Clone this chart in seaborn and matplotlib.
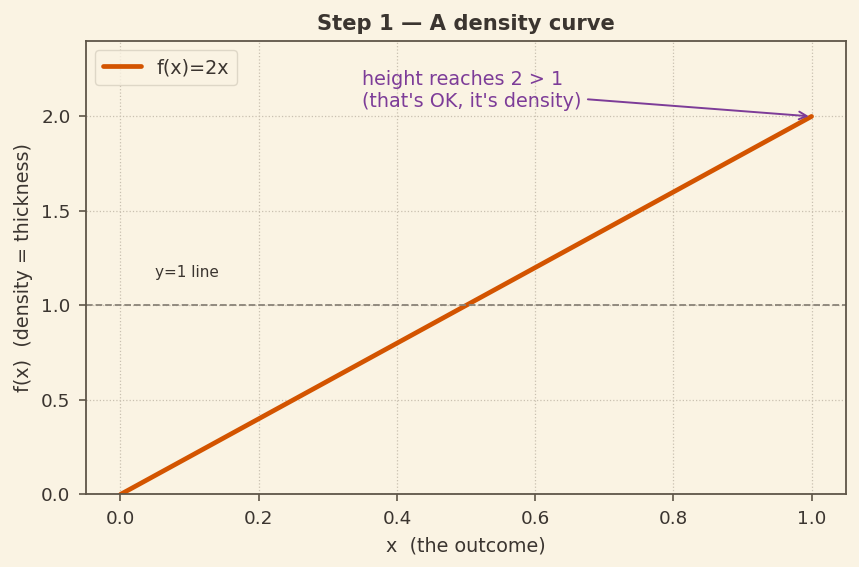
# Step 1 - a density curve f(x) = 2x on [0, 1]

import pandas as pd
import matplotlib
matplotlib.use("Agg")
import matplotlib.pyplot as plt
import seaborn as sns

# data
x_vals = [0.0, 0.5, 1.0]
fx_vals = [0.0, 1.0, 2.0]
series_label = "f(x)=2x"

bg = "#faf3e3"
ink = "#3b3530"
edge = "#5e5548"

sns.set_theme(style="whitegrid")
plt.rcParams.update({
    "figure.facecolor": bg,
    "axes.facecolor": bg,
    "axes.edgecolor": edge,
    "axes.labelcolor": ink,
    "text.color": ink,
    "xtick.color": ink,
    "ytick.color": ink,
    "grid.color": "#c9c0b0",
    "grid.linestyle": ":",
    "grid.linewidth": 0.9,
})
plt.rcParams["font.family"] = ["DejaVu Sans"]

df = pd.DataFrame({"x": x_vals, "fx": fx_vals})

fig, ax = plt.subplots(figsize=(8.59, 5.67), dpi=100)

sns.lineplot(data=df, x="x", y="fx", color="#d35400", linewidth=3.4,
             label=series_label, ax=ax)

ax.axhline(1.0, color="#8a8378", linestyle="--", linewidth=1.3)
ax.text(0.05, 1.15, "y=1 line", fontsize=11, color=ink)

ax.annotate("height reaches 2 > 1\n(that's OK, it's density)",
            xy=(1.0, 2.0), xytext=(0.35, 2.05), fontsize=13.8,
            color="#7d3c98",
            arrowprops=dict(arrowstyle="->", color="#7d3c98", lw=1.4))

ax.set_xlim(-0.05, 1.05)
ax.set_ylim(0, 2.4)
ax.set_xticks([0.0, 0.2, 0.4, 0.6, 0.8, 1.0])
ax.set_yticks([0.0, 0.5, 1.0, 1.5, 2.0])
ax.tick_params(labelsize=13.2, length=5, width=1.2, pad=6, color=edge,
               left=True, bottom=True)
ax.set_xlabel("x  (the outcome)", fontsize=13.8, labelpad=6)
ax.set_ylabel("f(x)  (density = thickness)", fontsize=13.8, labelpad=6)
ax.set_title("Step 1 — A density curve", fontsize=15.2, fontweight="bold", pad=8)
for s in ax.spines.values():
    s.set_color(edge)
    s.set_linewidth(1.3)

leg = ax.legend(loc="upper left", fontsize=13.8, frameon=True)
leg.get_frame().set_facecolor(bg)
leg.get_frame().set_edgecolor("#d8d0c0")

fig.subplots_adjust(left=0.1, right=0.985, top=0.928, bottom=0.128)
fig.savefig("out.png", dpi=100, facecolor=bg)
